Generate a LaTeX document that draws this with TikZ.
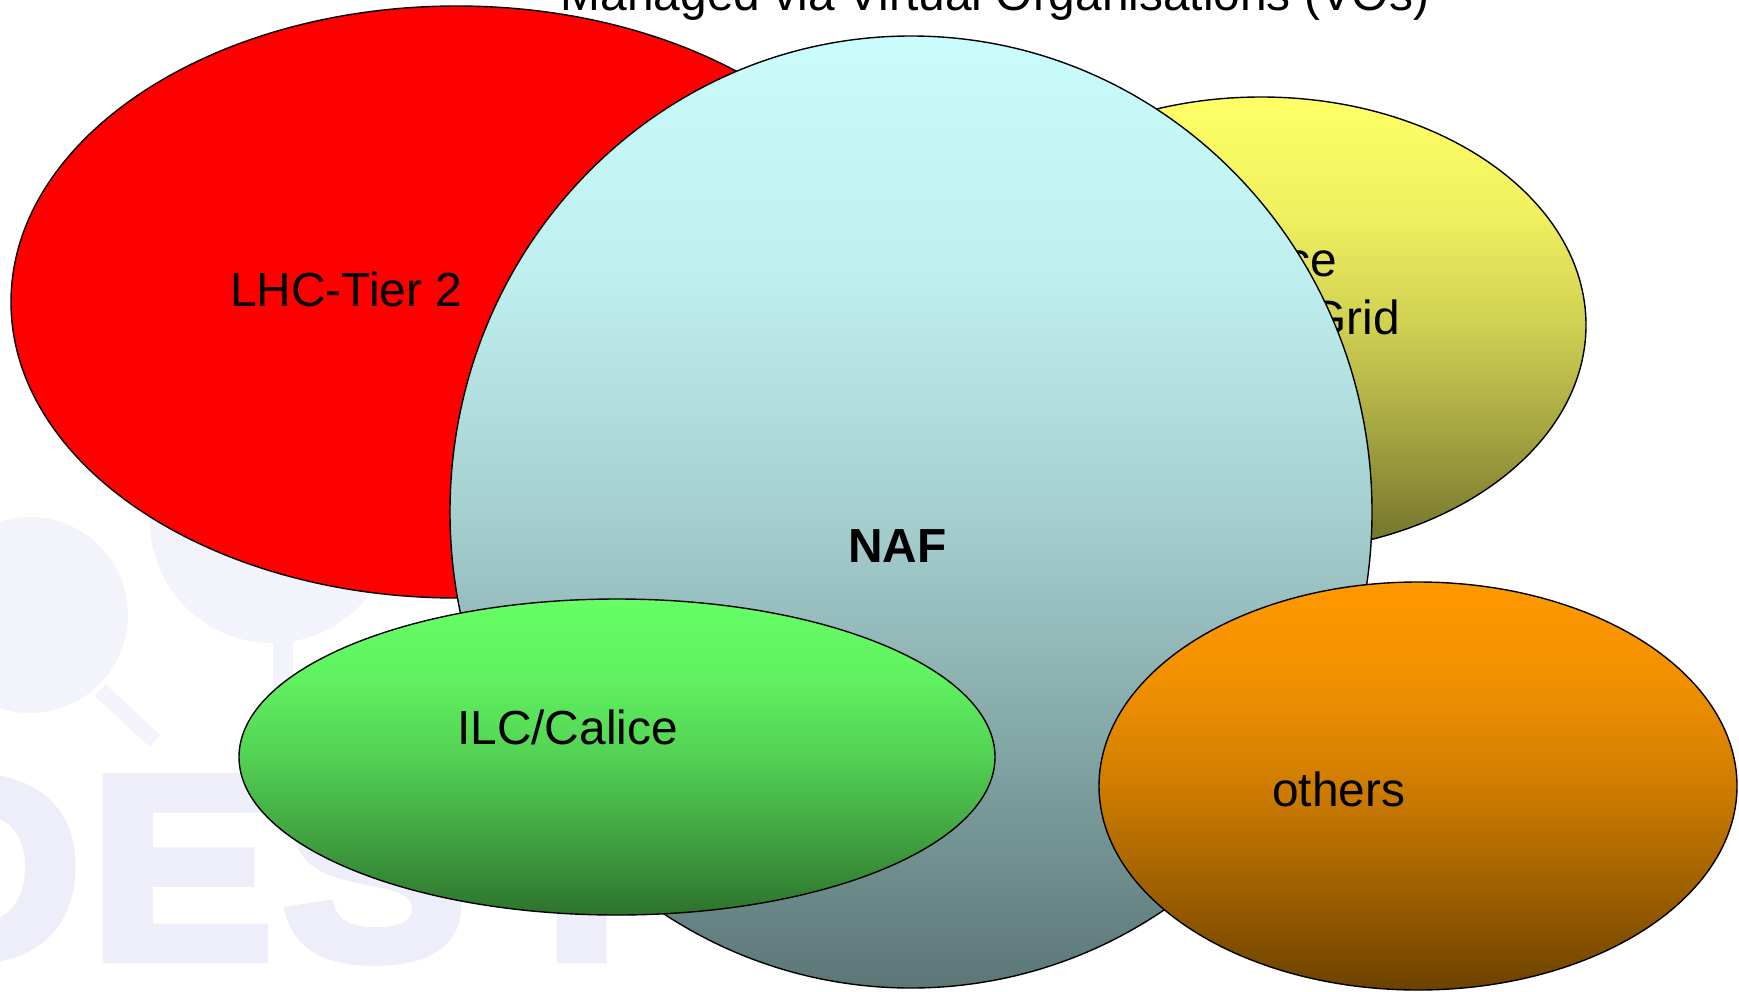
\documentclass[tikz,border=0pt]{standalone}
\usepackage{fontspec}
\setmainfont{Liberation Sans}
\newfontfamily\wmfont[FakeBold=4,FakeStretch=1.06]{Liberation Sans Bold}
\usetikzlibrary{shapes.geometric}
\definecolor{wm}{RGB}{238,238,250}
\definecolor{wmlight}{RGB}{243,243,252}
\definecolor{lhcred}{RGB}{255,0,0}
\definecolor{naftop}{RGB}{202,252,252}
\definecolor{nafbot}{RGB}{92,118,118}
\definecolor{yeltop}{RGB}{255,255,102}
\definecolor{yelbot}{RGB}{112,112,44}
\definecolor{grntop}{RGB}{102,255,102}
\definecolor{grnbot}{RGB}{45,115,45}
\definecolor{orgtop}{RGB}{255,153,0}
\definecolor{orgbot}{RGB}{108,66,0}
\newcommand\mkgrad[3]{\pgfdeclareverticalshading{#1}{100bp}{color(0bp)=(#3); color(25bp)=(#3); color(37.5bp)=(#2!35!#3); color(50bp)=(#2!67!#3); color(62.5bp)=(#2!90!#3); color(75bp)=(#2); color(100bp)=(#2)}}
\mkgrad{nafgrad}{naftop}{nafbot}
\mkgrad{yelgrad}{yeltop}{yelbot}
\mkgrad{grngrad}{grntop}{grnbot}
\mkgrad{orggrad}{orgtop}{orgbot}
\begin{document}
\begin{tikzpicture}[x=1bp,y=-1bp,
  blob/.style={ellipse, draw=black, line width=1.4bp, inner sep=0pt},
  lbl/.style={inner sep=0pt, font=\fontsize{48}{56}\selectfont, text=black},
  wmletter/.style={inner sep=0pt, text=wm, font=\wmfont\fontsize{262}{265}\selectfont, anchor=base west}]
\useasboundingbox (0,0) rectangle (1739,991);
\clip (0,0) rectangle (1739,991);
% faint background logo
\fill[wmlight] (30,615) circle[radius=98];
\fill[wmlight] (272,521) circle[radius=122];
\draw[wmlight, line width=16bp] (100,690) -- (155,741);
\draw[wmlight, line width=20bp] (283,641) -- (283,693);
\node[wmletter] (wmD) at (-118,958) {D};
\node[wmletter] (wmE) at (89,958) {E};
\node[wmletter] (wmS) at (282,958) {S};
\node[wmletter] (wmY) at (489,958) {Y};
% ellipses
\node[blob, fill=lhcred, minimum width=892bp, minimum height=592bp] (lhc) at (457,302) {};
\node[lbl, anchor=base west] (lhctext) at (230,306) {LHC-Tier 2};
\node[blob, shading=yelgrad, shade, minimum width=650bp, minimum height=456bp] (grid) at (1261,325) {};
\node[lbl, anchor=base east] (gridtexta) at (1337,276) {ce};
\node[lbl, anchor=base east] (gridtextb) at (1400,334) {Grid};
\node[blob, shading=nafgrad, shade, minimum width=922bp, minimum height=952bp] (naf) at (911,512) {};
\node[lbl, anchor=base west, font=\fontsize{48}{56}\selectfont\bfseries] (naftext) at (848,562) {NAF};
\node[blob, shading=grngrad, shade, minimum width=756bp, minimum height=316bp] (ilc) at (617,757) {};
\node[lbl, anchor=base west] (ilctext) at (457,744) {ILC/Calice};
\node[blob, shading=orggrad, shade, minimum width=638bp, minimum height=408bp] (others) at (1418,786) {};
\node[lbl, anchor=base west] (otherstext) at (1272,806) {others};
\node[lbl, anchor=base] (title) at (995,10) {Managed via Virtual Organisations (VOs)};
\end{tikzpicture}
\end{document}
